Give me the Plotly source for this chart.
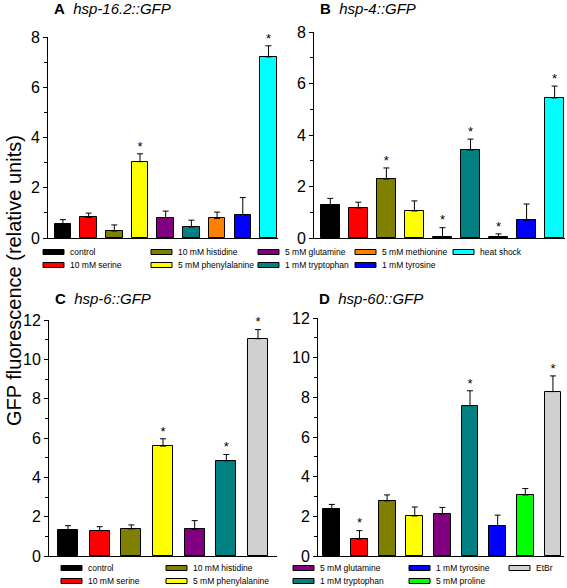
import plotly.graph_objects as go

W, H = 567, 588

# --- data ---
treat_ab = ["control", "10 mM serine", "10 mM histidine", "5 mM phenylalanine",
            "5 mM glutamine", "1 mM tryptophan", "5 mM methionine", "1 mM tyrosine",
            "heat shock"]
a_mean = [0.56, 0.82, 0.28, 3.04, 0.81, 0.44, 0.78, 0.93, 7.21]
a_top = [0.73, 0.99, 0.52, 3.35, 1.07, 0.71, 1.03, 1.61, 7.65]
a_sig = [0, 0, 0, 1, 0, 0, 0, 0, 1]

b_mean = [1.27, 1.17, 2.29, 1.05, 0.05, 3.42, 0.03, 0.69, 5.44]
b_top = [1.54, 1.39, 2.72, 1.44, 0.40, 3.84, 0.16, 1.32, 5.90]
b_sig = [0, 0, 1, 0, 1, 1, 1, 0, 1]

treat_c = ["control", "10 mM serine", "10 mM histidine", "5 mM phenylalanine",
           "5 mM glutamine", "1 mM tryptophan", "EtBr"]
c_mean = [1.34, 1.29, 1.38, 5.59, 1.36, 4.84, 11.05]
c_top = [1.54, 1.49, 1.58, 5.96, 1.80, 5.16, 11.51]
c_sig = [0, 0, 0, 1, 0, 1, 1]

treat_d = ["control", "10 mM serine", "10 mM histidine", "5 mM phenylalanine",
           "5 mM glutamine", "1 mM tryptophan", "1 mM tyrosine", "5 mM proline", "EtBr"]
d_mean = [2.36, 0.86, 2.78, 2.02, 2.12, 7.58, 1.53, 3.08, 8.29]
d_top = [2.60, 1.28, 3.08, 2.47, 2.45, 8.33, 2.06, 3.40, 9.08]
d_sig = [0, 1, 0, 0, 0, 1, 0, 0, 1]

colors = {
    "control": "#000000", "10 mM serine": "#ff0000", "10 mM histidine": "#808000",
    "5 mM phenylalanine": "#ffff00", "5 mM glutamine": "#800080",
    "1 mM tryptophan": "#008080", "5 mM methionine": "#ff8000",
    "1 mM tyrosine": "#0000ff", "heat shock": "#00ffff", "5 mM proline": "#00ff00",
    "EtBr": "#d0d0d0",
}

FONT = "Arial, Liberation Sans, sans-serif"


def px(x):
    return x / W


def py(y):
    return 1 - y / H


fig = go.Figure()

panels = [
    # (axis suffix, cats, mean, top, sig, bar width, x range, y max, x px, y px)
    ("", treat_ab, a_mean, a_top, a_sig, 0.64, [-0.58, 8.37], 8, (48, 278), (37, 238)),
    ("2", treat_ab, b_mean, b_top, b_sig, 0.67, [-0.58, 8.37], 8, (314, 565), (32, 238)),
    ("3", treat_c, c_mean, c_top, c_sig, 0.63, [-0.6, 6.6], 12, (49, 277), (320, 556)),
    ("4", treat_d, d_mean, d_top, d_sig, 0.61, [-0.5, 8.4], 12, (318, 564), (318, 556)),
]

for suf, cats, mean, top, sig, bw, xr, ymax, xpx, ypx in panels:
    err = [t - m for t, m in zip(top, mean)]
    fig.add_trace(go.Bar(
        x=cats, y=mean, width=bw, xaxis="x" + suf, yaxis="y" + suf,
        marker=dict(color=[colors[c] for c in cats], line=dict(color="black", width=1)),
        error_y=dict(type="data", symmetric=False, array=err,
                     arrayminus=[0] * len(err), color="black", thickness=1, width=3),
        showlegend=False, cliponaxis=False, hoverinfo="skip",
    ))
    sx = [c for c, s in zip(cats, sig) if s]
    sy = [t for t, s in zip(top, sig) if s]
    fig.add_trace(go.Scatter(
        x=sx, y=sy, mode="text", text=["*"] * len(sx), textposition="top center",
        textfont=dict(size=13, color="black", family=FONT), cliponaxis=False,
        xaxis="x" + suf, yaxis="y" + suf, showlegend=False, hoverinfo="skip",
    ))
    fig.layout["xaxis" + suf] = dict(
        domain=[px(xpx[0]), px(xpx[1])], range=xr, type="category",
        showline=True, linecolor="black", linewidth=1, showticklabels=False,
        ticks="", showgrid=False, zeroline=False, anchor="y" + suf,
        automargin=False,
    )
    fig.layout["yaxis" + suf] = dict(
        domain=[py(ypx[1]), py(ypx[0])], range=[0, ymax], dtick=2,
        showline=True, linecolor="black", linewidth=1, ticks="outside",
        ticklen=4, tickcolor="black", showgrid=False, zeroline=False,
        tickfont=dict(size=16, color="black", family=FONT),
        minor=dict(dtick=1, ticks="outside", ticklen=3, tickcolor="black"),
        anchor="x" + suf, automargin=False,
    )

annotations = []
shapes = []

# panel titles
titles = [
    ("A", "hsp-16.2::GFP", 52, 8),
    ("B", "hsp-4::GFP", 318, 8),
    ("C", "hsp-6::GFP", 53, 298),
    ("D", "hsp-60::GFP", 317, 298),
]
for letter, name, x, y in titles:
    annotations.append(dict(
        x=px(x), y=py(y), xref="paper", yref="paper", xanchor="left", yanchor="middle",
        text="<b>%s</b>&nbsp;&nbsp;<i>%s</i>" % (letter, name), showarrow=False,
        font=dict(size=15, color="black", family=FONT),
    ))

# y axis title
annotations.append(dict(
    x=px(14), y=py(281), xref="paper", yref="paper", textangle=-90,
    xanchor="center", yanchor="middle",
    text="GFP fluorescence (relative units)", showarrow=False,
    font=dict(size=20, color="black", family=FONT),
))

# legend blocks: (label, swatch left x, row center y)
legend_items = [
    ("control", 43, 252), ("10 mM serine", 43, 265),
    ("10 mM histidine", 151, 252), ("5 mM phenylalanine", 151, 265),
    ("5 mM glutamine", 258, 252), ("1 mM tryptophan", 258, 265),
    ("5 mM methionine", 355, 252), ("1 mM tyrosine", 355, 265),
    ("heat shock", 453, 252),
    ("control", 61, 568), ("10 mM serine", 61, 581),
    ("10 mM histidine", 166, 568), ("5 mM phenylalanine", 166, 581),
    ("5 mM glutamine", 293, 568), ("1 mM tryptophan", 293, 581),
    ("1 mM tyrosine", 409, 568), ("5 mM proline", 409, 581),
    ("EtBr", 509, 568),
]
for label, x, y in legend_items:
    shapes.append(dict(
        type="rect", xref="paper", yref="paper",
        x0=px(x), x1=px(x + 21), y0=py(y + 2.5), y1=py(y - 2.5),
        fillcolor=colors[label], line=dict(color="black", width=1),
    ))
    annotations.append(dict(
        x=px(x + 25), y=py(y), xref="paper", yref="paper", xanchor="left",
        yanchor="middle", text=label, showarrow=False,
        font=dict(size=8.5, color="black", family=FONT),
    ))

fig.update_layout(
    width=W, height=H, margin=dict(l=0, r=0, t=0, b=0, pad=0),
    paper_bgcolor="white", plot_bgcolor="white",
    annotations=annotations, shapes=shapes, bargap=0,
    font=dict(family=FONT, color="black"),
)

fig.write_html("out.html", config={"displayModeBar": False},
               post_script="document.body.style.margin='0';"
               "document.body.style.overflow='hidden';")
